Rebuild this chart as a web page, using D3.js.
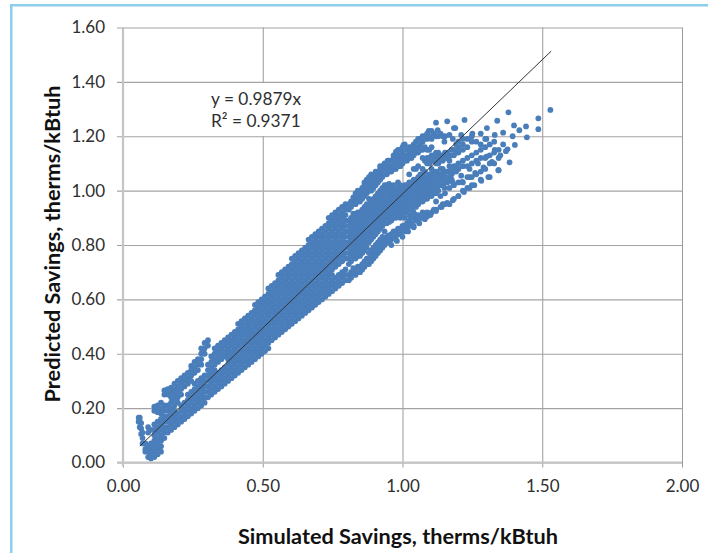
<!DOCTYPE html>
<html>
<head>
<meta charset="utf-8">
<script src="https://cdn.jsdelivr.net/npm/d3@7"></script>
<style>
    html, body { margin: 0; padding: 0; background: #fff; overflow: hidden; }
    svg { display: block; }
    text { font-family: Lato, "Open Sans", sans-serif; }
</style>
</head>
<body>
<div id="chart"></div>
<script>
const xTicks = [0, 0.5, 1.0, 1.5, 2.0];
const yTicks = [0, 0.2, 0.4, 0.6, 0.8, 1.0, 1.2, 1.4, 1.6];
const xTitle = "Simulated Savings, therms/kBtuh";
const yTitle = "Predicted Savings, therms/kBtuh";
const fitLabels = ["y = 0.9879x", "R² = 0.9371"];

// trendline ends
const trendSim = [0.06, 1.532];
const trendPred = [0.06, 1.513];

// simulated value of each column of points
const tailSim = [0.056, 0.06, 0.065, 0.07, 0.08, 0.09, 0.10, 0.112, 0.124, 0.136, 0.148, 0.16, 0.172, 0.184, 0.196, 0.208, 0.22, 0.232, 0.244, 0.256, 0.268, 0.28, 0.292, 0.304];
const tailPred = [
    [0.165, 0.15],
    [0.165, 0.15, 0.13],
    [0.145, 0.125, 0.105],
    [0.11, 0.09, 0.07],
    [0.07, 0.05, 0.04],
    [0.06, 0.04, 0.02, 0.11, 0.13],
    [0.015, 0.03, 0.05, 0.07, 0.12],
    [0.02, 0.04, 0.06, 0.08, 0.10, 0.12, 0.14, 0.19, 0.205],
    [0.03, 0.05, 0.07, 0.09, 0.11, 0.13, 0.15, 0.185, 0.20, 0.21],
    [0.04, 0.06, 0.08, 0.10, 0.12, 0.14, 0.16, 0.18, 0.20, 0.22],
    [0.09, 0.11, 0.13, 0.15, 0.17, 0.19, 0.21, 0.25, 0.265],
    [0.11, 0.13, 0.15, 0.17, 0.19, 0.21, 0.25, 0.27],
    [0.12, 0.14, 0.16, 0.18, 0.20, 0.22, 0.24, 0.26, 0.275],
    [0.13, 0.15, 0.17, 0.19, 0.21, 0.23, 0.25, 0.27, 0.29],
    [0.14, 0.16, 0.18, 0.22, 0.24, 0.26, 0.28, 0.30],
    [0.15, 0.17, 0.19, 0.21, 0.25, 0.27, 0.29, 0.31],
    [0.16, 0.18, 0.20, 0.22, 0.28, 0.30, 0.32],
    [0.17, 0.19, 0.21, 0.23, 0.25, 0.29, 0.31, 0.33],
    [0.18, 0.20, 0.22, 0.24, 0.26, 0.30, 0.32, 0.34, 0.355],
    [0.19, 0.21, 0.23, 0.25, 0.27, 0.29, 0.33, 0.35, 0.37],
    [0.20, 0.22, 0.24, 0.26, 0.28, 0.30, 0.34, 0.36, 0.38],
    [0.21, 0.23, 0.25, 0.27, 0.29, 0.31, 0.36, 0.38, 0.40, 0.42],
    [0.22, 0.24, 0.26, 0.28, 0.30, 0.32, 0.40, 0.42, 0.44],
    [0.24, 0.26, 0.28, 0.30, 0.32, 0.34, 0.36, 0.43, 0.45]
];

const coreSim = [0.316, 0.328, 0.34, 0.352, 0.364, 0.376, 0.388, 0.40, 0.412, 0.424, 0.436, 0.448, 0.46, 0.472, 0.484, 0.496, 0.508, 0.52, 0.532, 0.544, 0.556, 0.568, 0.58, 0.592];
const corePred = [
    [0.25, 0.27, 0.29, 0.31, 0.33, 0.35, 0.37, 0.39],
    [0.26, 0.28, 0.30, 0.32, 0.34, 0.36, 0.38, 0.40, 0.42],
    [0.27, 0.29, 0.31, 0.33, 0.37, 0.39, 0.41, 0.43],
    [0.28, 0.30, 0.32, 0.34, 0.38, 0.40, 0.42, 0.44],
    [0.29, 0.31, 0.33, 0.35, 0.39, 0.41, 0.43, 0.45],
    [0.30, 0.32, 0.34, 0.36, 0.38, 0.40, 0.42, 0.44, 0.46],
    [0.31, 0.33, 0.35, 0.37, 0.39, 0.41, 0.43, 0.45, 0.47],
    [0.32, 0.34, 0.36, 0.38, 0.40, 0.42, 0.44, 0.46, 0.48],
    [0.33, 0.35, 0.37, 0.39, 0.41, 0.43, 0.45, 0.47, 0.49, 0.51],
    [0.34, 0.36, 0.38, 0.40, 0.42, 0.44, 0.46, 0.48, 0.50, 0.52],
    [0.35, 0.37, 0.39, 0.41, 0.43, 0.45, 0.47, 0.49, 0.51, 0.53],
    [0.36, 0.38, 0.40, 0.42, 0.44, 0.46, 0.48, 0.50, 0.52, 0.54],
    [0.37, 0.39, 0.41, 0.43, 0.45, 0.47, 0.49, 0.51, 0.53, 0.55],
    [0.38, 0.40, 0.42, 0.44, 0.46, 0.48, 0.50, 0.52, 0.54, 0.56, 0.58],
    [0.39, 0.41, 0.43, 0.45, 0.47, 0.49, 0.51, 0.53, 0.55, 0.57, 0.59],
    [0.40, 0.42, 0.44, 0.46, 0.48, 0.50, 0.52, 0.54, 0.56, 0.58, 0.60],
    [0.41, 0.43, 0.45, 0.47, 0.49, 0.51, 0.53, 0.55, 0.57, 0.59, 0.61],
    [0.42, 0.44, 0.46, 0.48, 0.50, 0.52, 0.54, 0.56, 0.58, 0.60, 0.62, 0.64],
    [0.45, 0.47, 0.49, 0.51, 0.53, 0.55, 0.57, 0.59, 0.61, 0.63, 0.65],
    [0.46, 0.48, 0.50, 0.52, 0.54, 0.56, 0.58, 0.60, 0.62, 0.64, 0.66],
    [0.47, 0.49, 0.51, 0.53, 0.55, 0.57, 0.59, 0.61, 0.63, 0.65, 0.67, 0.69],
    [0.48, 0.50, 0.52, 0.54, 0.56, 0.58, 0.60, 0.62, 0.64, 0.66, 0.68, 0.70],
    [0.49, 0.51, 0.53, 0.55, 0.57, 0.59, 0.61, 0.63, 0.65, 0.67, 0.69, 0.71],
    [0.50, 0.52, 0.54, 0.56, 0.58, 0.60, 0.62, 0.64, 0.66, 0.68, 0.70, 0.72]
];

const wideSim = [0.604, 0.616, 0.628, 0.64, 0.652, 0.664, 0.676, 0.688, 0.70, 0.712, 0.724, 0.736, 0.748, 0.76, 0.772, 0.784, 0.796];
const widePred = [
    [0.51, 0.53, 0.55, 0.57, 0.59, 0.61, 0.63, 0.65, 0.67, 0.69, 0.71, 0.73, 0.75],
    [0.52, 0.54, 0.56, 0.58, 0.60, 0.62, 0.64, 0.66, 0.68, 0.70, 0.72, 0.74, 0.76],
    [0.53, 0.55, 0.57, 0.59, 0.61, 0.63, 0.65, 0.67, 0.69, 0.71, 0.73, 0.75, 0.77],
    [0.54, 0.56, 0.58, 0.60, 0.62, 0.64, 0.66, 0.68, 0.70, 0.72, 0.74, 0.76, 0.78],
    [0.55, 0.57, 0.59, 0.61, 0.63, 0.65, 0.67, 0.69, 0.71, 0.73, 0.75, 0.77, 0.79],
    [0.56, 0.58, 0.60, 0.62, 0.64, 0.66, 0.68, 0.70, 0.72, 0.74, 0.76, 0.78, 0.80, 0.82],
    [0.57, 0.59, 0.61, 0.63, 0.65, 0.67, 0.69, 0.71, 0.73, 0.75, 0.77, 0.79, 0.81, 0.83],
    [0.58, 0.60, 0.62, 0.64, 0.66, 0.68, 0.70, 0.72, 0.74, 0.76, 0.78, 0.80, 0.82, 0.84],
    [0.59, 0.61, 0.63, 0.65, 0.67, 0.69, 0.71, 0.73, 0.75, 0.77, 0.79, 0.81, 0.83, 0.85],
    [0.60, 0.62, 0.64, 0.66, 0.68, 0.70, 0.72, 0.74, 0.76, 0.78, 0.80, 0.82, 0.84, 0.86],
    [0.61, 0.63, 0.65, 0.67, 0.69, 0.71, 0.73, 0.75, 0.77, 0.79, 0.81, 0.83, 0.85, 0.87],
    [0.62, 0.64, 0.66, 0.68, 0.70, 0.72, 0.74, 0.76, 0.78, 0.80, 0.82, 0.84, 0.86, 0.88, 0.90],
    [0.63, 0.65, 0.67, 0.69, 0.71, 0.73, 0.75, 0.77, 0.79, 0.81, 0.83, 0.85, 0.87, 0.89, 0.91],
    [0.64, 0.66, 0.68, 0.72, 0.74, 0.76, 0.78, 0.80, 0.82, 0.84, 0.86, 0.88, 0.90, 0.92],
    [0.65, 0.67, 0.69, 0.73, 0.75, 0.77, 0.79, 0.81, 0.83, 0.85, 0.87, 0.89, 0.91, 0.93],
    [0.66, 0.68, 0.70, 0.74, 0.76, 0.78, 0.80, 0.82, 0.84, 0.86, 0.88, 0.90, 0.92, 0.94],
    [0.67, 0.69, 0.71, 0.75, 0.77, 0.79, 0.81, 0.83, 0.85, 0.87, 0.89, 0.91, 0.93, 0.95]
];

// above about 0.8 the cloud opens up into separate strands
const strandSim = [0.816, 0.832, 0.848, 0.864, 0.88, 0.896, 0.912, 0.928, 0.944, 0.96, 0.976, 0.992, 1.008, 1.024, 1.04, 1.056, 1.072, 1.088, 1.104, 1.12, 1.136, 1.152, 1.168, 1.184, 1.2, 1.216, 1.232, 1.248, 1.264, 1.28, 1.296, 1.312, 1.328, 1.344];
const strandPred = [
    [0.68, 0.70, 0.74, 0.76, 0.78, 0.80, 0.82, 0.84, 0.86, 0.88, 0.90, 0.94, 0.96],
    [0.69, 0.71, 0.75, 0.77, 0.79, 0.81, 0.83, 0.85, 0.87, 0.89, 0.91, 0.95, 0.97, 0.99],
    [0.70, 0.72, 0.76, 0.78, 0.80, 0.82, 0.84, 0.86, 0.88, 0.90, 0.92, 0.96, 0.98, 1.00],
    [0.72, 0.74, 0.78, 0.80, 0.82, 0.84, 0.86, 0.88, 0.90, 0.92, 0.94, 0.98, 1.00, 1.02, 1.03],
    [0.73, 0.75, 0.77, 0.81, 0.83, 0.85, 0.87, 0.89, 0.91, 0.93, 0.95, 0.97, 1.00, 1.02, 1.04, 1.05],
    [0.75, 0.77, 0.79, 0.83, 0.85, 0.87, 0.89, 0.91, 0.93, 0.95, 0.97, 1.01, 1.03, 1.05],
    [0.77, 0.79, 0.81, 0.85, 0.87, 0.89, 0.91, 0.93, 0.95, 0.97, 0.99, 1.03, 1.05, 1.07],
    [0.79, 0.81, 0.83, 0.87, 0.89, 0.91, 0.93, 0.95, 0.97, 0.99, 1.01, 1.05, 1.07, 1.09],
    [0.81, 0.83, 0.88, 0.90, 0.92, 0.94, 0.96, 0.98, 1.00, 1.02, 1.06, 1.08, 1.10],
    [0.82, 0.84, 0.89, 0.91, 0.93, 0.95, 0.97, 0.99, 1.01, 1.07, 1.09, 1.11],
    [0.83, 0.85, 0.90, 0.92, 0.94, 0.96, 0.98, 1.00, 1.08, 1.10, 1.12, 1.14],
    [0.84, 0.86, 0.90, 0.92, 0.94, 0.96, 0.98, 1.00, 1.02, 1.09, 1.11, 1.13, 1.15],
    [0.85, 0.87, 0.90, 0.92, 0.94, 0.96, 0.98, 1.00, 1.02, 1.11, 1.13, 1.17],
    [0.87, 0.89, 0.91, 0.93, 0.95, 0.97, 0.99, 1.01, 1.03, 1.06, 1.12, 1.14, 1.16],
    [0.87, 0.90, 0.92, 0.94, 0.96, 0.98, 1.00, 1.02, 1.04, 1.08, 1.13, 1.15, 1.17],
    [0.89, 0.91, 0.95, 0.97, 0.99, 1.01, 1.03, 1.05, 1.09, 1.14, 1.16, 1.19],
    [0.90, 0.92, 0.96, 0.98, 1.00, 1.02, 1.04, 1.06, 1.08, 1.12, 1.15, 1.18, 1.20],
    [0.905, 0.92, 0.97, 0.99, 1.01, 1.03, 1.05, 1.10, 1.12, 1.15, 1.19, 1.21],
    [0.92, 0.98, 1.00, 1.02, 1.04, 1.06, 1.08, 1.11, 1.13, 1.16, 1.19, 1.22],
    [0.93, 0.96, 1.01, 1.03, 1.05, 1.07, 1.10, 1.12, 1.14, 1.20, 1.25],
    [0.94, 0.98, 1.02, 1.04, 1.06, 1.08, 1.11, 1.13, 1.21],
    [0.95, 0.99, 1.03, 1.05, 1.07, 1.12, 1.14, 1.20],
    [0.95, 1.01, 1.05, 1.07, 1.09, 1.11, 1.13, 1.205],
    [0.97, 1.02, 1.07, 1.09, 1.13, 1.15, 1.23],
    [0.98, 1.03, 1.08, 1.10, 1.14, 1.16, 1.18],
    [1.00, 1.03, 1.09, 1.11, 1.15, 1.17, 1.19],
    [1.01, 1.05, 1.09, 1.12, 1.16, 1.19],
    [1.02, 1.05, 1.10, 1.13, 1.18, 1.20],
    [1.06, 1.11, 1.14, 1.18],
    [1.04, 1.07, 1.12, 1.15, 1.17, 1.21],
    [1.08, 1.12, 1.16, 1.19],
    [1.05, 1.10, 1.13, 1.17],
    [1.10, 1.14, 1.18],
    [1.075, 1.12, 1.15]
];

// in-between columns, the strands are denser than one column can show
const betweenSim = [0.808, 0.824, 0.84, 0.856, 0.872, 0.888, 0.904, 0.92, 0.936, 0.952, 0.968, 0.984, 1.0, 1.016, 1.032, 1.048, 1.064, 1.08, 1.096, 1.112, 1.128, 1.144, 1.16, 1.176, 1.192];
const betweenPred = [
    [0.67, 0.69, 0.73, 0.75, 0.77, 0.79, 0.81, 0.83, 0.85, 0.87, 0.89, 0.93, 0.95],
    [0.695, 0.715, 0.755, 0.775, 0.795, 0.815, 0.835, 0.855, 0.875, 0.895, 0.915, 0.955, 0.975],
    [0.70, 0.72, 0.76, 0.78, 0.80, 0.82, 0.84, 0.86, 0.88, 0.90, 0.92, 0.96, 0.98, 1.00],
    [0.71, 0.73, 0.77, 0.79, 0.81, 0.83, 0.85, 0.87, 0.89, 0.91, 0.93, 0.97, 0.99, 1.01],
    [0.73, 0.75, 0.79, 0.81, 0.83, 0.85, 0.87, 0.89, 0.91, 0.93, 0.95, 0.99, 1.01, 1.03, 1.04],
    [0.74, 0.76, 0.78, 0.82, 0.84, 0.86, 0.88, 0.90, 0.92, 0.94, 0.96, 1.00, 1.02, 1.04, 1.06],
    [0.76, 0.78, 0.80, 0.84, 0.86, 0.88, 0.90, 0.92, 0.94, 0.96, 0.98, 1.02, 1.04, 1.06, 1.07],
    [0.78, 0.80, 0.82, 0.86, 0.88, 0.90, 0.92, 0.94, 0.96, 0.98, 1.00, 1.04, 1.06, 1.08, 1.09],
    [0.80, 0.82, 0.85, 0.88, 0.90, 0.92, 0.94, 0.96, 0.98, 1.00, 1.02, 1.06, 1.08, 1.10],
    [0.815, 0.835, 0.885, 0.905, 0.925, 0.945, 0.965, 0.985, 1.005, 1.025, 1.07, 1.09, 1.11],
    [0.83, 0.85, 0.90, 0.92, 0.94, 0.96, 0.98, 1.00, 1.02, 1.08, 1.10, 1.12, 1.13],
    [0.84, 0.86, 0.91, 0.93, 0.95, 0.97, 0.99, 1.01, 1.03, 1.09, 1.11, 1.13, 1.15],
    [0.85, 0.87, 0.91, 0.93, 0.95, 0.97, 0.99, 1.01, 1.10, 1.12, 1.14, 1.16],
    [0.86, 0.88, 0.92, 0.94, 0.96, 0.98, 1.00, 1.02, 1.11, 1.13, 1.15],
    [0.88, 0.90, 0.93, 0.95, 0.97, 0.99, 1.01, 1.03, 1.12, 1.14, 1.16],
    [0.89, 0.91, 0.94, 0.96, 0.98, 1.00, 1.02, 1.04, 1.08, 1.14, 1.16, 1.18],
    [0.90, 0.96, 0.98, 1.00, 1.02, 1.04, 1.06, 1.15, 1.17, 1.19],
    [0.91, 0.97, 0.99, 1.01, 1.03, 1.05, 1.07, 1.11, 1.16, 1.20],
    [0.98, 1.00, 1.02, 1.04, 1.06, 1.10, 1.12, 1.15, 1.20],
    [0.93, 0.99, 1.01, 1.03, 1.05, 1.07, 1.11, 1.13, 1.21],
    [1.00, 1.02, 1.04, 1.06, 1.10, 1.12, 1.14, 1.20],
    [0.95, 1.02, 1.04, 1.06, 1.08, 1.11, 1.13, 1.20],
    [1.03, 1.05, 1.07, 1.12, 1.14],
    [1.04, 1.06, 1.08, 1.13, 1.15],
    [1.07, 1.09, 1.14, 1.17]
];

// isolated dots at the far end
const looseSim = [1.529, 1.486, 1.486, 1.445, 1.442, 1.418, 1.399, 1.379, 1.339, 1.222, 1.16, 1.189, 1.126, 1.094, 1.302, 1.36, 1.394, 1.402, 1.376, 1.383, 1.343, 1.307, 1.282, 1.257, 1.004, 0.977, 0.947];
const loosePred = [1.297, 1.266, 1.226, 1.196, 1.236, 1.222, 1.24, 1.288, 1.257, 1.26, 1.255, 1.23, 1.222, 1.22, 1.23, 1.213, 1.2, 1.168, 1.152, 1.104, 1.075, 1.05, 1.036, 1.02, 1.168, 1.143, 1.11];

// lowest strands and the top edge past 1.0
const edgeSim = [0.96, 0.98, 1.0, 1.02, 1.04, 1.06, 1.08, 1.10, 1.12, 1.14, 1.16, 1.18, 1.20, 1.22, 1.24, 1.214, 1.24, 1.26, 1.29, 1.32, 1.35, 1.37, 1.12, 1.15, 1.18, 1.21, 1.24, 1.27, 1.30, 1.33, 1.36, 1.15, 1.18, 1.21, 1.25, 1.30, 1.33];
const edgePred = [0.80, 0.815, 0.83, 0.85, 0.865, 0.88, 0.895, 0.91, 0.925, 0.94, 0.955, 0.965, 0.98, 0.995, 1.01, 1.032, 1.05, 1.065, 1.085, 1.106, 1.13, 1.145, 0.99, 1.01, 1.03, 1.055, 1.08, 1.10, 1.125, 1.15, 1.17, 1.18, 1.19, 1.205, 1.21, 1.19, 1.205];

const width = 708, height = 553;
const plotLeft = 123, plotRight = 682, plotTop = 27.5, plotBottom = 462.5;

const x = d3.scaleLinear().domain([0, 2]).range([plotLeft, plotRight]);
const y = d3.scaleLinear().domain([0, 1.6]).range([plotBottom, plotTop]);

const svg = d3.select("#chart").append("svg")
    .attr("width", width)
    .attr("height", height);

// window frame of the screenshot
svg.append("rect").attr("x", 10).attr("y", 4).attr("width", width - 10).attr("height", 2.5).attr("fill", "#8ccfec");
svg.append("rect").attr("x", 10).attr("y", 4).attr("width", 2.5).attr("height", height - 4).attr("fill", "#8ccfec");

// gridlines come from the axis ticks
const xAxis = svg.append("g")
    .attr("transform", "translate(0," + plotBottom + ")")
    .call(d3.axisBottom(x).tickValues(xTicks).tickFormat(d3.format(".2f")).tickSize(6).tickPadding(11));
xAxis.selectAll(".tick line")
    .attr("y1", 5)
    .attr("y2", plotTop - plotBottom)
    .attr("stroke", "#9a9a9a");

const yAxis = svg.append("g")
    .attr("transform", "translate(" + plotLeft + ",0)")
    .call(d3.axisLeft(y).tickValues(yTicks).tickFormat(d3.format(".2f")).tickSize(6).tickPadding(12));
yAxis.selectAll(".tick line")
    .attr("x1", -6)
    .attr("x2", plotRight - plotLeft)
    .attr("stroke", "#a3a3a3")
    .attr("stroke-width", 1.2);

svg.selectAll(".domain").remove();
svg.selectAll(".tick text")
    .attr("fill", "#2f2f2f")
    .style("font-size", "17px");

// heavier axis lines on top of the grid
svg.append("line").attr("x1", plotLeft).attr("x2", plotLeft).attr("y1", plotTop).attr("y2", plotBottom + 4)
    .attr("stroke", "#c4c4c4").attr("stroke-width", 2.2);
svg.append("line").attr("x1", plotLeft - 6).attr("x2", plotRight).attr("y1", plotBottom).attr("y2", plotBottom)
    .attr("stroke", "#c4c4c4").attr("stroke-width", 2.2);

// flatten the columns into one list of points
function toPoints(sim, pred) {
    const pts = [];
    sim.forEach((s, i) => pred[i].forEach(p => pts.push({ sim: s, pred: p })));
    return pts;
}

const points = [
    ...toPoints(tailSim, tailPred),
    ...toPoints(coreSim, corePred),
    ...toPoints(wideSim, widePred),
    ...toPoints(strandSim, strandPred),
    ...toPoints(betweenSim, betweenPred),
    ...looseSim.map((s, i) => ({ sim: s, pred: loosePred[i] })),
    ...edgeSim.map((s, i) => ({ sim: s, pred: edgePred[i] }))
];

svg.append("g").selectAll("circle")
    .data(points)
    .enter()
    .append("circle")
    .attr("cx", d => x(d.sim))
    .attr("cy", d => y(d.pred))
    .attr("r", 2.9)
    .attr("fill", "#4a7ebb");

// trendline
svg.append("line")
    .attr("x1", x(trendSim[0]))
    .attr("y1", y(trendPred[0]))
    .attr("x2", x(trendSim[1]))
    .attr("y2", y(trendPred[1]))
    .attr("stroke", "#333")
    .attr("stroke-width", 1);

// fit label sits on a white box that breaks the grid
svg.append("rect")
    .attr("x", 206).attr("y", 83)
    .attr("width", 101).attr("height", 53)
    .attr("fill", "#fff");

svg.selectAll(".fit")
    .data(fitLabels)
    .enter()
    .append("text")
    .attr("class", "fit")
    .attr("x", 211)
    .attr("y", (d, i) => 105 + i * 22)
    .attr("fill", "#2f2f2f")
    .style("font-size", "17.3px")
    .text(d => d);

svg.append("text")
    .attr("x", 398)
    .attr("y", 544)
    .attr("text-anchor", "middle")
    .attr("fill", "#111")
    .style("font-size", "21.7px")
    .style("font-weight", 700)
    .text(xTitle);

svg.append("text")
    .attr("transform", "translate(60,244) rotate(-90)")
    .attr("text-anchor", "middle")
    .attr("fill", "#111")
    .style("font-size", "21.7px")
    .style("font-weight", 700)
    .text(yTitle);
</script>
</body>
</html>
